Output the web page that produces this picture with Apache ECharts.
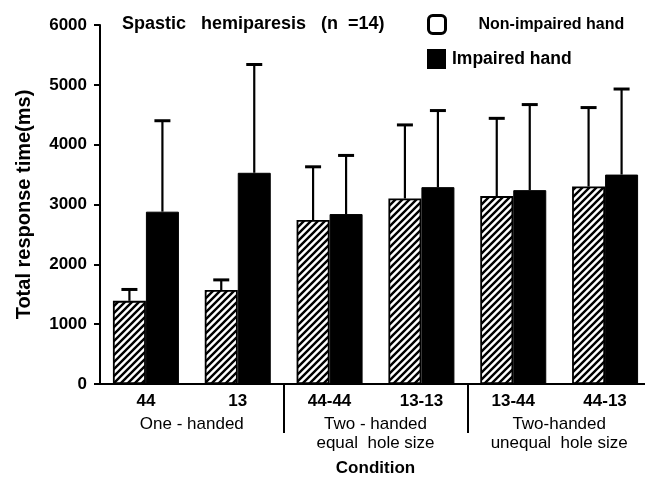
<!DOCTYPE html>
<html>
<head>
<meta charset="utf-8">
<script src="https://cdn.jsdelivr.net/npm/echarts@6/dist/echarts.min.js"></script>
<style>
  html, body { margin: 0; padding: 0; background: #fff; }
  #eChart { width: 645px; height: 479px; }
</style>
</head>
<body>
<div id="eChart"></div>
<script>
// data
var conditions = ['44', '13', '44-44', '13-13', '13-44', '44-13'];
var groups = ['One - handed', 'Two - handed\nequal  hole size', 'Two-handed\nunequal  hole size'];
var nonImpaired = [1390, 1570, 2740, 3100, 3140, 3300];
var nonImpairedSd = [190, 170, 890, 1230, 1300, 1320];
var impaired = [2880, 3530, 2840, 3290, 3240, 3500];
var impairedSd = [1520, 1810, 980, 1280, 1430, 1430];
var yTicks = [0, 6000, 1000];

var FONT = '"Liberation Sans", Arial, sans-serif';

// diagonal hatching for the non-impaired bars
var T = 7;
var hatch = document.createElement('canvas');
hatch.width = T;
hatch.height = T;
var ctx = hatch.getContext('2d');
ctx.fillStyle = '#fff';
ctx.fillRect(0, 0, T, T);
ctx.strokeStyle = '#000';
ctx.lineWidth = 2.4;
ctx.beginPath();
ctx.moveTo(0, T); ctx.lineTo(T, 0);
ctx.moveTo(-2, 2); ctx.lineTo(2, -2);
ctx.moveTo(T - 2, T + 2); ctx.lineTo(T + 2, T - 2);
ctx.stroke();

var BAR_W = 33;

function errorBar(shift) {
  return function (params, api) {
    var x = api.value(0);
    var base = api.coord([x, api.value(1)]);
    var top = api.coord([x, api.value(1) + api.value(2)]);
    var cx = base[0] + shift;
    return {
      type: 'group',
      children: [
        { type: 'line', shape: { x1: cx, y1: base[1], x2: cx, y2: top[1] }, style: { stroke: '#000', lineWidth: 2.2 } },
        { type: 'line', shape: { x1: cx - 8, y1: top[1], x2: cx + 8, y2: top[1] }, style: { stroke: '#000', lineWidth: 3 } }
      ]
    };
  };
}

var myChart = echarts.init(document.getElementById('eChart'));
var option = {
  backgroundColor: '#fff',
  animation: false,
  title: {
    text: 'Spastic   hemiparesis   (n  =14)',
    left: 122,
    top: 15,
    padding: 0,
    textStyle: { fontFamily: FONT, fontSize: 18, fontWeight: 'bold', color: '#000' }
  },
  legend: [
    {
      left: 427,
      top: 14,
      padding: 0,
      itemWidth: 17,
      itemHeight: 18,
      data: [{ name: 'Non-impaired hand', icon: 'roundRect', itemStyle: { color: '#fff', borderColor: '#000', borderWidth: 3, decal: 'none' } }],
      textStyle: { fontFamily: FONT, fontSize: 16, fontWeight: 'bold', color: '#000', padding: [0, 0, 0, 28] }
    },
    {
      left: 427,
      top: 49,
      padding: 0,
      itemWidth: 17,
      itemHeight: 18,
      data: [{ name: 'Impaired hand', icon: 'rect' }],
      textStyle: { fontFamily: FONT, fontSize: 17.5, fontWeight: 'bold', color: '#000', padding: [0, 0, 0, 2] }
    }
  ],
  grid: { left: 100, right: -6, top: 25, bottom: 95, outerBoundsMode: 'none' },
  xAxis: [
    {
      type: 'category',
      data: conditions,
      position: 'bottom',
      name: 'Condition',
      nameLocation: 'middle',
      nameGap: 76,
      nameTextStyle: { fontFamily: FONT, fontSize: 17, fontWeight: 'bold', color: '#000' },
      axisLine: { lineStyle: { color: '#000', width: 2 } },
      axisTick: { alignWithLabel: true, length: 5, lineStyle: { color: '#000', width: 2 } },
      axisLabel: { fontFamily: FONT, fontSize: 17, fontWeight: 'bold', color: '#000', margin: 9 }
    },
    {
      type: 'category',
      data: groups,
      position: 'bottom',
      axisLine: { show: true, lineStyle: { color: 'rgba(0,0,0,0)', width: 0 } },
      axisTick: {
        show: true,
        length: 49,
        interval: function (i) { return i === 1 || i === 2; },
        lineStyle: { color: '#000', width: 2 }
      },
      axisLabel: { fontFamily: FONT, fontSize: 17, color: '#000', margin: 31, lineHeight: 19 }
    }
  ],
  yAxis: {
    type: 'value',
    min: yTicks[0],
    max: yTicks[1],
    interval: yTicks[2],
    name: 'Total response time(ms)',
    nameLocation: 'middle',
    nameGap: 66,
    nameTextStyle: { fontFamily: FONT, fontSize: 20, fontWeight: 'bold', color: '#000' },
    axisLine: { show: true, lineStyle: { color: '#000', width: 2 } },
    axisTick: { show: true, length: 6, lineStyle: { color: '#000', width: 2 } },
    axisLabel: {
      fontFamily: FONT, fontSize: 17, fontWeight: 'bold', color: '#000', margin: 13,
      formatter: function (v) { return String(v); }
    },
    splitLine: { show: false }
  },
  series: [
    {
      name: 'Non-impaired hand',
      type: 'bar',
      barWidth: BAR_W,
      barGap: '0%',
      data: nonImpaired,
      itemStyle: { color: { image: hatch, repeat: 'repeat' }, borderColor: '#000', borderWidth: 1.8 }
    },
    {
      name: 'Impaired hand',
      type: 'bar',
      barWidth: BAR_W,
      barGap: '0%',
      data: impaired,
      itemStyle: { color: '#000', borderColor: '#000', borderWidth: 1 }
    },
    {
      name: 'sd-non',
      type: 'custom',
      renderItem: errorBar(-BAR_W / 2),
      data: nonImpaired.map(function (v, i) { return [i, v, nonImpairedSd[i]]; }),
      encode: { x: 0, y: 1 },
      z: 5
    },
    {
      name: 'sd-imp',
      type: 'custom',
      renderItem: errorBar(BAR_W / 2),
      data: impaired.map(function (v, i) { return [i, v, impairedSd[i]]; }),
      encode: { x: 0, y: 1 },
      z: 5
    }
  ]
};
myChart.setOption(option);
</script>
</body>
</html>
